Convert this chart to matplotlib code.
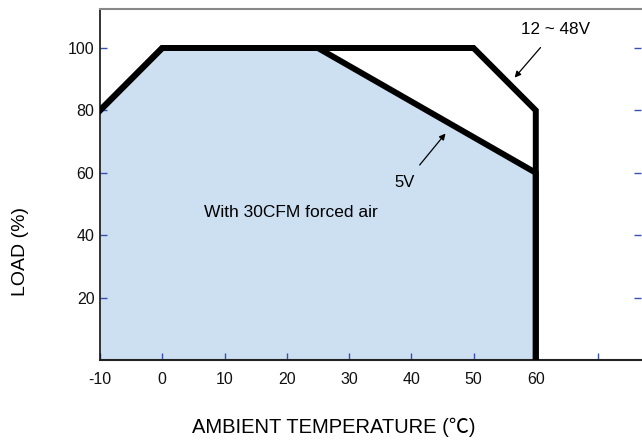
import matplotlib
matplotlib.use("Agg")
import matplotlib.pyplot as plt

plt.rcParams['font.family'] = ['Liberation Sans', 'Noto Sans CJK SC', 'DejaVu Sans']

# Data
temp_hi = [-10, 0, 50, 60, 60]
load_hi = [80, 100, 100, 80, 0]
temp_5v = [-10, 0, 25, 60, 60]
load_5v = [80, 100, 100, 60, 0]
x_ticks = [-10, 0, 10, 20, 30, 40, 50, 60, 70]
x_labels = ['-10', '0', '10', '20', '30', '40', '50', '60', '']
y_ticks = [20, 40, 60, 80, 100]
y_labels = ['20', '40', '60', '80', '100']

fig = plt.figure(figsize=(6.42, 4.45), dpi=100)
ax = fig.add_axes([100/642, 85/445, 541/642, 351/445])

ax.fill_between(temp_5v, load_5v, 0, color='#cce0f2', linewidth=0, zorder=1)
ax.plot(temp_hi, load_hi, color='black', linewidth=4.3, solid_joinstyle='miter', zorder=3)
ax.plot(temp_5v, load_5v, color='black', linewidth=4.3, solid_joinstyle='miter', zorder=3)

ax.set_xlim(-10, 76.9)
ax.set_ylim(0, 112.5)
ax.set_xticks(x_ticks)
ax.set_xticklabels(x_labels)
ax.set_yticks(y_ticks)
ax.set_yticklabels(y_labels)

ax.tick_params(axis='both', direction='in', length=5, width=1, color='#3a50b0', labelsize=11.5, labelcolor='#111111')
ax.tick_params(axis='y', right=True, pad=4)
ax.tick_params(axis='x', pad=9)

ax.spines['right'].set_visible(False)
ax.spines['top'].set_color('#888888')
ax.spines['top'].set_linewidth(1.5)
ax.spines['left'].set_color('#111111')
ax.spines['left'].set_linewidth(1.2)
ax.spines['bottom'].set_color('#222222')
ax.spines['bottom'].set_linewidth(1.5)

fig.text(21/642, 1 - 252/445, 'LOAD (%)', fontsize=14, rotation=90, ha='center', va='center')
fig.text(334/642, 1 - 427/445, 'AMBIENT TEMPERATURE (℃)', fontsize=14.5, ha='center', va='center')

ax.annotate('12 ~ 48V', xy=(56.6, 90.5), xytext=(63.2, 105.8),
            fontsize=12.3, ha='center', va='center',
            arrowprops=dict(arrowstyle='-|>', color='black', lw=0.9, mutation_scale=9, shrinkB=0, shrinkA=7))
ax.annotate('5V', xy=(45.5, 72.6), xytext=(39.0, 56.8),
            fontsize=12, ha='center', va='center',
            arrowprops=dict(arrowstyle='-|>', color='black', lw=0.9, mutation_scale=9, shrinkB=0, shrinkA=7))
ax.text(20.6, 47.2, 'With 30CFM forced air', fontsize=12.5, ha='center', va='center')

fig.savefig('out.png', dpi=100)
